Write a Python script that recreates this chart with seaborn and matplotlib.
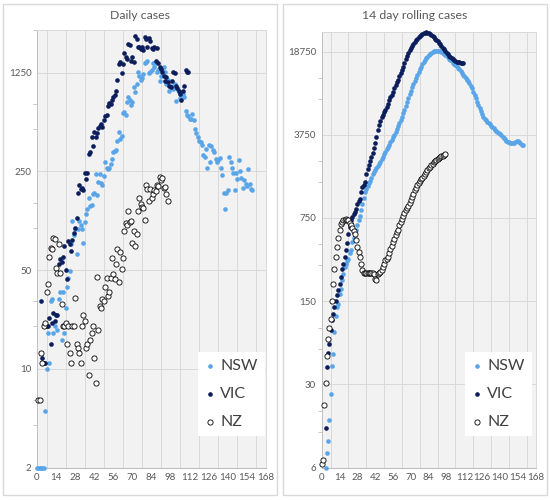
import numpy as np
import pandas as pd
import matplotlib
matplotlib.use("Agg")
import matplotlib.pyplot as plt
from matplotlib.patches import Rectangle
from matplotlib.ticker import FixedLocator, NullFormatter
import seaborn as sns

sns.set_style("white")
plt.rcParams['font.family'] = ['Lato', 'DejaVu Sans']

# ---- daily cases (first day of each list given by *_start) ----
nsw_daily_start = 0
nsw_daily = [2, 2, 2, 2, 2, 2, 5, 10, 18, 11, 30, 31, 18, 20, 24, 19, 31, 35, 16, 35,
             18, 27, 38, 44, 49, 77, 112, 89, 97, 65, 97, 111, 105, 98, 78, 110, 124, 136, 163, 141,
             145, 172, 177, 239, 170, 210, 239, 207, 199, 233, 291, 262, 260, 262, 283, 307, 344, 349, 356, 410,
             472, 422, 442, 647, 662, 626, 772, 836, 802, 742, 770, 988, 908, 1044, 1260, 1190, 1102, 1141, 1224, 1450,
             1490, 1515, 1250, 1270, 1295, 1450, 1370, 1450, 1260, 1295, 1097, 1190, 1330, 1370, 1270, 1044, 1102, 920, 1010, 980,
             950, 1040, 790, 950, 908, 820, 836, 880, 840, 665, 626, 611, 590, 590, 640, 574, 497, 470, 440, 410,
             400, 385, 327, 316, 362, 266, 385, 290, 380, 355, 340, 305, 290, 300, 312, 266, 235, 175, 135, 175,
             185, 316, 290, 266, 245, 185, 242, 220, 300, 250, 225, 190, 216, 205, 198, 260, 205, 188, 185]

vic_daily_start = 3
vic_daily = [30, 12, 11, 11, 20, 20, 23, 15, 21, 25, 22, 24, 24, 55, 60, 57, 62, 74, 50, 43,
             80, 76, 68, 82, 92, 100, 116, 176, 200, 186, 190, 184, 244, 220, 244, 330, 340, 440, 380, 475,
             440, 470, 505, 520, 540, 512, 575, 611, 626, 720, 765, 750, 800, 836, 865, 932, 1110, 1440, 1490, 1240,
             1440, 1725, 1610, 1560, 2000, 1960, 1510, 1610, 1490, 2260, 2150, 1900, 1880, 1830, 1900, 1793, 2230, 2150, 1880, 2180,
             2100, 1870, 1840, 1900, 1510, 1870, 1470, 1370, 1335, 1260, 1190, 1097, 1160, 1070, 1010, 980, 1097, 1260, 1240, 1000,
             975, 920, 880, 800, 932, 1010, 1295, 1270, 1270]

nz_daily_start = 1
nz_daily = [6, 6, 13, 11, 20, 21, 35, 40, 62, 72, 70, 84, 83, 52, 48, 77, 48, 29, 20, 20,
            21, 15, 20, 13, 11, 20, 20, 32, 15, 14, 13, 11, 20, 24, 22, 14, 15, 9, 16, 18,
            20, 12, 8, 45, 19, 28, 27, 31, 30, 38, 44, 33, 35, 44, 61, 47, 43, 55, 70, 41,
            67, 51, 61, 95, 108, 104, 130, 110, 112, 78, 94, 74, 90, 132, 162, 146, 140, 138, 113, 200,
            188, 154, 186, 162, 174, 184, 180, 200, 196, 228, 216, 226, 190, 194, 172, 154]

# ---- 14 day rolling cases ----
nsw_roll_start = 3
nsw_roll = [6, 8, 10, 15, 25, 43, 54, 83, 112, 133, 141, 171, 191, 225, 256, 290, 310, 325, 341, 380,
            401, 470, 510, 552, 600, 655, 720, 785, 880, 985, 1100, 1236, 1320, 1405, 1480, 1548, 1640, 1740, 1820, 1900,
            1980, 2060, 2140, 2220, 2330, 2450, 2570, 2700, 2830, 2960, 3100, 3250, 3400, 3560, 3730, 3950, 4200, 4450, 4700, 5000,
            5300, 5700, 6100, 6600, 7100, 7600, 8200, 8800, 9400, 10000, 10700, 11300, 12000, 12700, 13300, 14000, 14600, 15200, 15800, 16400,
            17000, 17500, 18000, 18300, 18600, 18900, 19100, 19100, 19100, 19050, 19000, 18700, 18300, 17900, 17600, 17200, 16800, 16300, 15900, 15500,
            15100, 14800, 14400, 14100, 13700, 13300, 12900, 12400, 12000, 11600, 11200, 10900, 10500, 10200, 9700, 9200, 8600, 8100, 7600, 7100,
            6700, 6300, 5900, 5600, 5300, 5100, 4950, 4800, 4700, 4600, 4450, 4350, 4250, 4150, 4070, 3980, 3880, 3780, 3700, 3620,
            3550, 3450, 3350, 3280, 3230, 3200, 3180, 3180, 3190, 3280, 3350, 3330, 3250, 3180, 3100, 3050]

vic_roll_start = 3
vic_roll = [13, 42, 55, 66, 86, 104, 118, 135, 150, 168, 188, 210, 240, 280, 311, 356, 400, 460, 552, 632,
            719, 770, 810, 850, 893, 985, 1040, 1087, 1236, 1363, 1430, 1500, 1750, 1950, 2100, 2273, 2450, 2650, 2900, 3200,
            3600, 4100, 4500, 4900, 5240, 5500, 5800, 6100, 6360, 6800, 7300, 7800, 8100, 8600, 9200, 9800, 10300, 10900, 11600, 12300,
            13100, 14000, 15000, 16200, 17300, 18300, 19300, 20200, 21000, 21800, 22600, 23300, 24000, 24600, 25200, 25700, 26200, 26600, 26900, 27100,
            27000, 26700, 26200, 25700, 25200, 24600, 24000, 23400, 22800, 22200, 21500, 20800, 20100, 19500, 18900, 18300, 17800, 17300, 16900, 16500,
            16100, 15800, 15600, 15400, 15300, 15200, 15100, 15000, 15000]

nz_roll_start = 0
nz_roll = [6.5, 7, 20, 31, 52, 72, 90, 107, 150, 210, 282, 352, 427, 510, 589, 668, 700, 715, 725, 730,
           725, 715, 680, 650, 622, 580, 552, 486, 427, 385, 352, 306, 272, 260, 257, 257, 257, 260, 260, 258,
           258, 255, 232, 225, 255, 260, 265, 272, 290, 311, 330, 340, 352, 380, 410, 440, 470, 500, 535, 570,
           598, 650, 700, 740, 780, 820, 867, 910, 950, 1000, 1052, 1120, 1200, 1278, 1350, 1430, 1480, 1530, 1580, 1640,
           1700, 1760, 1830, 1900, 1960, 2020, 2080, 2130, 2200, 2260, 2300, 2340, 2390, 2430, 2470, 2510, 2540, 2560]

states = ['NSW', 'VIC', 'NZ']
x_ticks = list(range(0, 169, 14))
daily_ticks = [2, 10, 50, 250, 1250]
roll_ticks = [6, 30, 150, 750, 3750, 18750]

NSW_C = '#5aa5e8'
VIC_C = '#0b1d5a'
TXT = '#595959'
GRID = '#d9d9d9'


def long_frame(series):
    parts = []
    for name, start, vals in series:
        parts.append(pd.DataFrame({'day': np.arange(start, start + len(vals)),
                                   'cases': vals, 'state': name}))
    return pd.concat(parts, ignore_index=True)


daily = long_frame([('NSW', nsw_daily_start, nsw_daily),
                    ('VIC', vic_daily_start, vic_daily),
                    ('NZ', nz_daily_start, nz_daily)])
rolling = long_frame([('NSW', nsw_roll_start, nsw_roll),
                      ('VIC', vic_roll_start, vic_roll),
                      ('NZ', nz_roll_start, nz_roll)])

W, H = 550, 500
fig = plt.figure(figsize=(W / 100, H / 100), dpi=100)
fig.patch.set_facecolor('white')

# excel style chart frames
for x0, x1 in [(3, 277), (283, 547)]:
    fig.add_artist(Rectangle((x0 / W, 5 / H), (x1 - x0) / W, 491 / H,
                             transform=fig.transFigure, fill=False,
                             edgecolor=GRID, lw=1.0))

ax1 = fig.add_axes([37 / W, 32.3 / H, 229 / W, 437.7 / H])
ax2 = fig.add_axes([321.7 / W, 32.3 / H, 214 / W, 436 / H])


def draw(ax, df, ticks, ylim, title, title_x, leg_x):
    ax.set_facecolor('#f2f2f2')
    ax.set_yscale('log')
    for name in states:
        sub = df[df.state == name]
        if name == 'NZ':
            sns.scatterplot(data=sub, x='day', y='cases', ax=ax, s=14, color='white',
                            edgecolor='black', linewidth=0.6, label=name, clip_on=False, zorder=3)
        else:
            sns.scatterplot(data=sub, x='day', y='cases', ax=ax, s=11,
                            color=NSW_C if name == 'NSW' else VIC_C,
                            linewidth=0, label=name, clip_on=False, zorder=3)
    ax.set_xlim(0, 168)
    ax.set_ylim(*ylim)
    ax.set_xticks(x_ticks)
    ax.set_xticklabels([str(t) for t in x_ticks])
    ax.xaxis.set_minor_locator(FixedLocator(list(range(0, 169, 7))))
    ax.set_yticks(ticks)
    ax.set_yticklabels([str(t) for t in ticks])
    minors = [m * t for t in ticks for m in (2, 3)]
    ax.yaxis.set_minor_locator(FixedLocator(minors))
    ax.yaxis.set_minor_formatter(NullFormatter())
    ax.tick_params(axis='both', which='major', length=0, labelsize=7, labelcolor=TXT, pad=4)
    ax.tick_params(axis='y', which='minor', length=3, width=0.6, color='#bfbfbf', left=True)
    ax.tick_params(axis='x', which='minor', length=0)
    ax.grid(axis='x', which='minor', color=GRID, lw=0.7)
    ax.grid(axis='y', which='major', color=GRID, lw=0.7)
    ax.set_axisbelow(True)
    for side in ['top', 'right']:
        ax.spines[side].set_color(GRID)
        ax.spines[side].set_linewidth(0.7)
    ax.spines['left'].set_color('#bfbfbf')
    ax.spines['left'].set_linewidth(0.7)
    ax.spines['bottom'].set_color('#bfbfbf')
    ax.spines['bottom'].set_linewidth(0.8)
    ax.set_xlabel('')
    ax.set_ylabel('')
    fig.text(title_x / W, 1 - 15.7 / H, title, ha='center', va='center',
             fontsize=8.8, color=TXT)
    handles, labels = ax.get_legend_handles_labels()
    leg = ax.legend(handles, labels, loc='upper left',
                    bbox_to_anchor=(leg_x / W, 1 - 352 / H), bbox_transform=fig.transFigure,
                    frameon=True, fancybox=False, framealpha=1, edgecolor='white',
                    fontsize=11.5, labelcolor='#404040', handlelength=0.6,
                    handletextpad=0.33, labelspacing=0.85, borderpad=0.45, borderaxespad=0,
                    markerscale=1.0)
    leg.get_frame().set_linewidth(0)
    leg.set_zorder(5)


draw(ax1, daily, daily_ticks, (2, 2500), 'Daily cases', 140, 198)
draw(ax2, rolling, roll_ticks, (6, 27500), '14 day rolling cases', 415, 465)

fig.savefig('out.png', dpi=100, facecolor='white')
